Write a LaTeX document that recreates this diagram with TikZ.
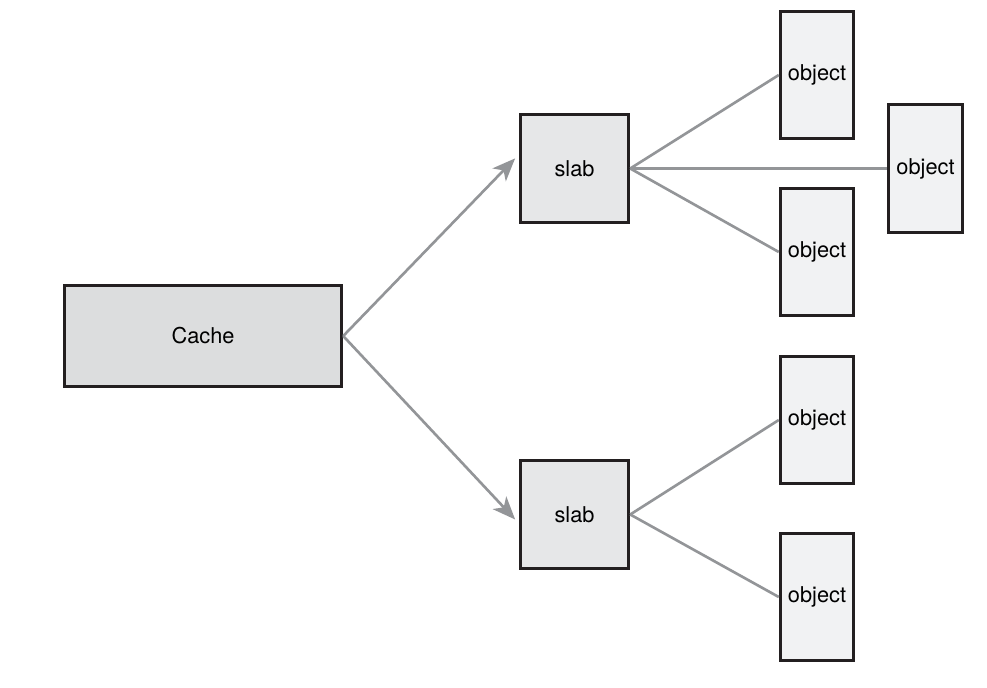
\documentclass[tikz,border=0pt]{standalone}
\usepackage{fontspec}
\setmainfont{TeX Gyre Heros}
\usetikzlibrary{arrows.meta}

\definecolor{boxline}{HTML}{231F20}
\definecolor{linkgray}{HTML}{939598}
\definecolor{cachefill}{HTML}{DCDDDE}
\definecolor{slabfill}{HTML}{E6E7E8}
\definecolor{objfill}{HTML}{F1F2F3}

\tikzset{
  cachebox/.style={shape=rectangle,draw=boxline,fill=cachefill,line width=1.7pt,minimum width=5.55cm,minimum height=2.03cm},
  slabbox/.style={shape=rectangle,draw=boxline,fill=slabfill,line width=1.7pt,minimum width=2.17cm,minimum height=2.17cm},
  objbox/.style={shape=rectangle,draw=boxline,fill=objfill,line width=1.7pt,minimum width=1.47cm,minimum height=2.55cm,inner sep=1pt},
  arrow/.style={color=linkgray,line width=1.5pt,-{Stealth[length=13pt,width=10.5pt,inset=3.5pt]},shorten >=3pt},
  link/.style={color=linkgray,line width=1.5pt}
}

\begin{document}
\begin{tikzpicture}[x=0.02cm,y=-0.02cm,font=\fontsize{12.4}{15}\selectfont]
      \useasboundingbox (0,0) rectangle (987,687);
      \node[cachebox] (cache) at (203,336) {Cache};
      \node[slabbox] (slab1) at (574.5,168.5) {slab};
      \node[slabbox] (slab2) at (574.5,514.5) {slab};
      \node[objbox] (obj1) at (817,75) {object};
      \node[objbox] (obj2) at (925.5,168.5) {object};
      \node[objbox] (obj3) at (817,252) {object};
      \node[objbox] (obj4) at (817,420) {object};
      \node[objbox] (obj5) at (817,597) {object};
      \draw [arrow] (cache.east) -- (slab1.166) ;
      \draw [arrow] (cache.east) -- (slab2.189) ;
      \draw [link] (slab1.east) -- (obj1.west) ;
      \draw [link] (slab1.east) -- (obj2.west) ;
      \draw [link] (slab1.east) -- (obj3.west) ;
      \draw [link] (slab2.east) -- (obj4.west) ;
      \draw [link] (slab2.east) -- (obj5.west) ;

    \end{tikzpicture}
\end{document}
